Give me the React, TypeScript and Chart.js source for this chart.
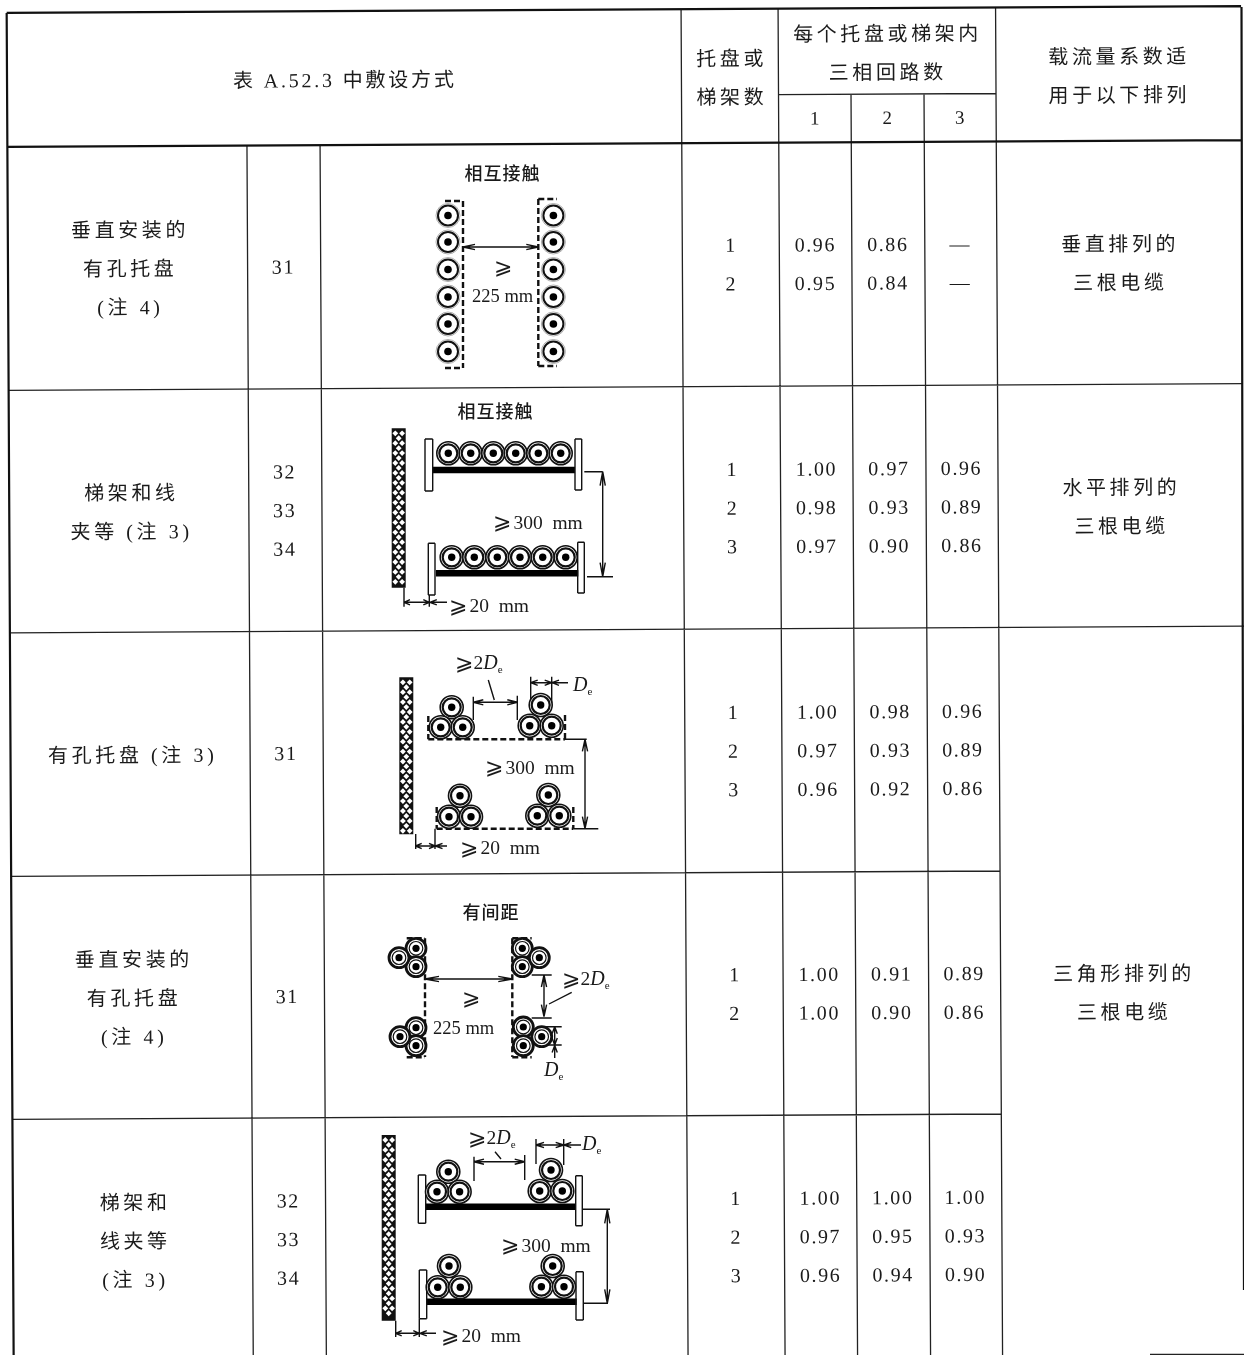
import React, { useEffect, useRef } from "react";
import { Chart, registerables } from "chart.js";
Chart.register(...registerables);

// ---------- table content ----------
const headerTitle = "表 A.52.3 中敷设方式";
const headerTrays = ["托盘或", "梯架数"];
const headerCircuits = ["每个托盘或梯架内", "三相回路数"];
const circuitLabels = ["1", "2", "3"];
const headerUse = ["载流量系数适", "用于以下排列"];

const installLabels = [
  ["垂直安装的", "有孔托盘", "(注 4)"],
  ["梯架和线", "夹等 (注 3)"],
  ["有孔托盘 (注 3)"],
  ["垂直安装的", "有孔托盘", "(注 4)"],
  ["梯架和", "线夹等", "(注 3)"],
];
const methodCodes = [["31"], ["32", "33", "34"], ["31"], ["31"], ["32", "33", "34"]];
const trayCounts = [["1", "2"], ["1", "2", "3"], ["1", "2", "3"], ["1", "2"], ["1", "2", "3"]];
const oneCircuit = [["0.96", "0.95"], ["1.00", "0.98", "0.97"], ["1.00", "0.97", "0.96"], ["1.00", "1.00"], ["1.00", "0.97", "0.96"]];
const twoCircuits = [["0.86", "0.84"], ["0.97", "0.93", "0.90"], ["0.98", "0.93", "0.92"], ["0.91", "0.90"], ["1.00", "0.95", "0.94"]];
const threeCircuits = [["—", "—"], ["0.96", "0.89", "0.86"], ["0.96", "0.89", "0.86"], ["0.89", "0.86"], ["1.00", "0.93", "0.90"]];
const arrangementLabels = [["垂直排列的", "三根电缆"], ["水平排列的", "三根电缆"], ["三角形排列的", "三根电缆"]];

// ---------- layout of the (slightly rotated) scanned table ----------
const SKEW_X = 0.0052;
const SKEW_Y = 0.0055;
const T = (u: number, v: number) => ({ x: u + SKEW_X * v, y: v - SKEW_Y * u });
const rowMid = [268.5, 512, 755, 998, 1241];
const arrangementRow = [0, 1, 3];
const PITCH = 38.6;
const colCenter = { label: 127, code: 282, tray: 729, c1: 814, c2: 886.5, c3: 959, use: 1117 };
const vLines = [
  [246.2, 147, 1362], [319.3, 147, 1362], [681, 13, 1362], [778, 13, 1362],
  [850.5, 99, 1362], [923.5, 99, 1362], [995.5, 13, 1362],
];
const hLines = [[6.6, 1241, 390.5], [6.6, 1241, 633], [6.6, 995.5, 876.5], [6.6, 995.5, 1119.5], [778, 995.5, 99]];

type P = { x: number; y: number };
type Seg = number[];
type Txt = { t: string; x: number; y: number; size?: number; sp?: number; bold?: boolean };
type Run = { runs: [string, string][]; x: number; y: number };

const FONT = '"Liberation Serif","Noto Sans CJK SC","DejaVu Sans"';

// ---------- diagram geometry helpers ----------
const thin: Seg[] = [];
const medium: Seg[] = [];
const bars: Seg[] = [];
const dashed: Seg[] = [];
const walls: Seg[] = [];

function arrowHead(x1: number, y1: number, x2: number, y2: number, len = 9, hw = 2.6) {
  const d = Math.hypot(x2 - x1, y2 - y1) || 1;
  const ux = (x2 - x1) / d, uy = (y2 - y1) / d;
  thin.push([x2, y2, x2 - ux * len - uy * hw, y2 - uy * len + ux * hw]);
  thin.push([x2, y2, x2 - ux * len + uy * hw, y2 - uy * len - ux * hw]);
}
function dim(x1: number, y1: number, x2: number, y2: number, len = 9) {
  thin.push([x1, y1, x2, y2]);
  arrowHead(x1, y1, x2, y2, len);
  arrowHead(x2, y2, x1, y1, len);
}
function lead(x1: number, y1: number, x2: number, y2: number) {
  thin.push([x1, y1, x2, y2]);
  arrowHead(x1, y1, x2, y2, 7);
}
function box(x1: number, y1: number, x2: number, y2: number) {
  medium.push([x1, y1, x2, y1], [x2, y1, x2, y2], [x2, y2, x1, y2], [x1, y2, x1, y1]);
}
function tri(x: number, y: number, dx: number, dy: number) {
  return [[x, y], [x - dx, y + dy], [x + dx, y + dy]];
}

// Diagram 1
const cablesThin = [448, 553].flatMap((x, i) =>
  [215.5, 242, 269.5, 297, 324, 351.5].map((y) => [x + (i ? 0.4 : 0), y]));
dashed.push([463, 201, 463, 368], [445, 201, 463, 201], [445, 368, 463, 368]);
dashed.push([538.3, 199, 538.3, 366], [538.3, 199, 557, 199], [538.3, 366, 557, 366]);
dim(463, 247, 538.3, 247, 12);

// Diagram 2
const cablesRing: number[][] = [
  ...[448.3, 470.7, 493.3, 515.7, 538.3, 560.7].map((x) => [x, 453.3]),
  ...[451.7, 474.3, 497.3, 520, 542.7, 565.7].map((x) => [x, 557.3]),
];
walls.push([398.7, 428.3, 398.7, 587.7]);
bars.push([432.7, 470, 575, 470], [436, 573.3, 578.3, 573.3]);
box(425, 439, 432.7, 491); box(575, 439, 581.7, 490); box(428.3, 543.3, 435, 595); box(577.7, 542.3, 584.3, 593);
dim(602.7, 471.7, 602.7, 576.7, 14);
thin.push([584.3, 471.7, 602.7, 471.7], [587, 576.7, 613, 576.7]);
thin.push([404, 587.7, 404, 606.7], [429.3, 595, 429.3, 606.7]);
dim(404, 602.3, 429.3, 602.3, 6);
lead(447, 602.3, 429.8, 602.3);

// Diagram 3
walls.push([406.3, 677.3, 406.3, 834.3]);
cablesRing.push(
  ...tri(451.7, 707.3, 11, 20), ...tri(540.7, 705, 11, 20.7),
  ...tri(460, 795.7, 11, 21), ...tri(548.3, 795, 11, 20.7));
dashed.push([428.3, 739.3, 565, 739.3], [428.3, 716, 428.3, 739.3], [565, 715, 565, 739.3]);
dashed.push([436.7, 828.7, 573.3, 828.7], [436.7, 807, 436.7, 828.7], [573.3, 807, 573.3, 828.7]);
thin.push([565, 739.3, 586.7, 739.3], [573.3, 828.7, 598.3, 828.7]);
dim(585, 739.3, 585, 828.7, 12);
thin.push([473.3, 696.7, 473.3, 720], [517.3, 695.7, 517.3, 720], [488.3, 680, 494.3, 700]);
dim(473.3, 702.3, 517.3, 702.3, 10);
thin.push([530.7, 676.7, 530.7, 705], [551.7, 676.7, 551.7, 705]);
dim(530.7, 682.7, 551.7, 682.7, 7);
lead(568, 682.7, 552, 682.7);
thin.push([415.7, 834, 415.7, 849], [435, 828.7, 435, 849]);
dim(415.7, 846, 435, 846, 6);
lead(447, 846, 435.5, 846);

// Diagram 4
const cablesHeavy: number[][] = [
  [416, 948.3], [416, 966.7], [399, 957.7], [416, 1027.7], [416, 1045.7], [400, 1036.7],
  [522.3, 948.3], [522.3, 966.7], [539.3, 957.7], [523.3, 1027], [523.3, 1045.7], [541.7, 1036.7],
];
dashed.push([425, 938.3, 425, 1057], [406.7, 938.3, 425, 938.3], [406.7, 1057.3, 425, 1057.3]);
dashed.push([512.3, 938.3, 512.3, 1057], [512.3, 938.3, 531.7, 938.3], [512.3, 1057.3, 531.7, 1057.3]);
dim(425, 979, 512.3, 979, 14);
dim(544, 975, 544, 1016.7, 12);
thin.push([531.7, 975, 551.7, 975], [531.7, 1018, 551.7, 1018], [571.7, 992.3, 549, 1004]);
thin.push([540, 1026.7, 561.7, 1026.7], [540, 1045, 561.7, 1045]);
dim(554.7, 1026.7, 554.7, 1045, 7);
lead(554.7, 1058, 554.7, 1045.5);

// Diagram 5
walls.push([388.7, 1135, 388.7, 1320.7]);
bars.push([425.7, 1206.7, 576, 1206.7], [426.7, 1301.7, 576.7, 1301.7]);
box(418.3, 1175, 425.7, 1223.3); box(575.7, 1175.7, 582.3, 1225.7);
box(419.3, 1270, 426.7, 1318.7); box(576, 1271.7, 583.3, 1320);
cablesRing.push(
  ...tri(448.3, 1171.7, 11.3, 20), ...tri(551, 1170, 11.3, 21),
  ...tri(449, 1266, 11.3, 21.3), ...tri(552.7, 1266, 11.3, 20.7));
dim(607.3, 1209.3, 607.3, 1303.3, 14);
thin.push([582.3, 1209.3, 610, 1209.3], [583, 1303.3, 608, 1303.3]);
thin.push([395.7, 1320.7, 395.7, 1337], [419.3, 1318.7, 419.3, 1337]);
dim(395.7, 1333.3, 419.3, 1333.3, 6);
lead(436, 1333.3, 419.8, 1333.3);
thin.push([474, 1156.7, 474, 1181], [524.7, 1155, 524.7, 1180], [495, 1151.7, 501, 1159]);
dim(474, 1161.7, 524.7, 1161.7, 10);
thin.push([536, 1139, 536, 1164], [563.7, 1139, 563.7, 1165]);
dim(536, 1145, 563.7, 1145, 8);
lead(581, 1145, 564.2, 1145);

// ---------- table lines ----------
const tableBold: Seg[] = [];
const tableThin: Seg[] = [];
const S = (a: P, b: P) => [a.x, a.y, b.x, b.y];
tableBold.push(S(T(6.6, 13), T(6.6, 1362)), S(T(6.6, 13), T(1241, 13)), S(T(6.6, 147), T(1241, 147)));
tableBold.push([1241.5, 7, 1244, 1290]);
vLines.forEach(([u, a, b]) => tableThin.push(S(T(u, a), T(u, b))));
hLines.forEach(([a, b, v]) => tableThin.push(S(T(a, v), T(b, v))));
tableThin.push([1150, 1354.4, 1244, 1354.4]);

const segData = (segs: Seg[]) =>
  segs.flatMap(([a, b, c, d]) => [{ x: a, y: b }, { x: c, y: d }, { x: NaN, y: NaN }]);
const ptData = (pts: number[][]) => pts.map(([x, y]) => ({ x, y }));

const lineDs = (segs: Seg[], width: number, color = "#111", dash: number[] = []) => ({
  data: segData(segs), showLine: true, borderColor: color, borderWidth: width, borderDash: dash,
  pointRadius: 0, spanGaps: false, clip: false, borderCapStyle: "butt",
});
const ptDs = (pts: number[][], r: number, bg: string, bc: string, bw: number, style = "circle") => ({
  data: ptData(pts), showLine: false, pointRadius: r, pointBackgroundColor: bg, pointBorderColor: bc,
  pointBorderWidth: bw, pointStyle: style, clip: false,
});

const diamonds: number[][] = [];
walls.forEach(([x, y1, , y2]) => {
  const pitch = 9.9;
  for (let y = y1 + 5; y < y2 - 3; y += pitch) {
    diamonds.push([x - 3.4, y], [x + 3.4, y]);
    if (y + pitch / 2 < y2 - 3) diamonds.push([x, y + pitch / 2]);
  }
});

// ---------- free text in the diagrams ----------
const D = "italic 20px " + FONT;
const SUB = "11px " + FONT;
const N = "19.5px " + FONT;
const GE = "22px " + FONT;
const GAP = "8px " + FONT;
const M = "18.5px " + FONT;
const diagramText: Txt[] = [
  { t: "相互接触", x: 502.5, y: 175 },
  { t: "相互接触", x: 495.5, y: 413 },
  { t: "有间距", x: 491, y: 914 },
];
const diagramRuns: Run[] = [
  { runs: [["⩾", GE]], x: 494, y: 268 },
  { runs: [["225 mm", M]], x: 472, y: 297 },
  { runs: [["⩾", GE], [" ", GAP], ["300  mm", N]], x: 493, y: 523.5 },
  { runs: [["⩾", GE], [" ", GAP], ["20  mm", N]], x: 449, y: 607 },
  { runs: [["⩾", GE], ["2", N], ["D", D], ["e", SUB]], x: 455, y: 664 },
  { runs: [["D", D], ["e", SUB]], x: 573, y: 686 },
  { runs: [["⩾", GE], [" ", GAP], ["300  mm", N]], x: 485, y: 768.5 },
  { runs: [["⩾", GE], [" ", GAP], ["20  mm", N]], x: 460, y: 849 },
  { runs: [["⩾", GE]], x: 462, y: 999 },
  { runs: [["225 mm", M]], x: 433, y: 1029.5 },
  { runs: [["⩾", GE], ["2", N], ["D", D], ["e", SUB]], x: 562, y: 980 },
  { runs: [["D", D], ["e", SUB]], x: 544, y: 1071 },
  { runs: [["⩾", GE], ["2", N], ["D", D], ["e", SUB]], x: 468, y: 1139 },
  { runs: [["D", D], ["e", SUB]], x: 582, y: 1145 },
  { runs: [["⩾", GE], [" ", GAP], ["300  mm", N]], x: 501, y: 1246.5 },
  { runs: [["⩾", GE], [" ", GAP], ["20  mm", N]], x: 441, y: 1337 },
];

// ---------- table text laid out from the content arrays ----------
const tableText: Txt[] = [];
const put = (t: string, u: number, v: number, size = 20, sp = 3.6) => {
  const cjk = /[\u3400-\u9fff]/.test(t);
  const p = T(u + (cjk ? sp / 2 : 0), v + (cjk ? 2.6 : 1.4));
  tableText.push({ t, x: p.x, y: p.y, size, sp });
};
const stack = (list: string[], u: number, mid: number, size = 20, sp = 3.6) =>
  list.forEach((t, i) => put(t, u, mid + (i - (list.length - 1) / 2) * PITCH, size, sp));

put(headerTitle, 343, 81, 20, 2.8);
stack(headerTrays, 729.5, 81);
stack(headerCircuits, 885.5, 57);
circuitLabels.forEach((t, i) => put(t, [814, 886.5, 959][i], 122.5, 19, 0));
stack(headerUse, 1117, 81);
rowMid.forEach((mid, r) => {
  stack(installLabels[r], colCenter.label, mid);
  stack(methodCodes[r], colCenter.code, mid, 20, 1.6);
  stack(trayCounts[r], colCenter.tray, mid, 20, 0);
  stack(oneCircuit[r], colCenter.c1, mid, 20, 1.6);
  stack(twoCircuits[r], colCenter.c2, mid, 20, 1.6);
  stack(threeCircuits[r], colCenter.c3, mid, 20, 1.6);
});
arrangementLabels.forEach((list, i) => stack(list, colCenter.use, rowMid[arrangementRow[i]]));

const textPlugin = {
  id: "tableText",
  afterDatasetsDraw(chart: any) {
    const { ctx, scales } = chart;
    const px = (x: number) => scales.x.getPixelForValue(x);
    const py = (y: number) => scales.y.getPixelForValue(y);
    ctx.save();
    ctx.fillStyle = "#1a1a1a";
    ctx.textBaseline = "middle";
    const angle = -0.0055;
    tableText.forEach((o) => {
      ctx.save();
      ctx.translate(px(o.x), py(o.y));
      ctx.rotate(angle);
      ctx.textAlign = "center";
      ctx.font = `${o.size}px ${FONT}`;
      ctx.letterSpacing = `${o.sp}px`;
      ctx.fillText(o.t, 0, 0);
      ctx.restore();
    });
    diagramText.forEach((o) => {
      ctx.textAlign = "center";
      ctx.font = `500 18px ${FONT}`;
      ctx.letterSpacing = "1px";
      ctx.fillText(o.t, px(o.x), py(o.y));
    });
    ctx.letterSpacing = "0px";
    ctx.textAlign = "left";
    diagramRuns.forEach((o) => {
      let x = px(o.x);
      o.runs.forEach(([t, f]) => {
        ctx.font = f;
        const sub = f === SUB;
        ctx.fillText(t, x, py(o.y) + (sub ? 6 : 0));
        x += ctx.measureText(t).width;
      });
    });
    ctx.restore();
  },
};

export default function App() {
  const ref = useRef<HTMLCanvasElement>(null);
  useEffect(() => {
    // listed in paint order, bottom first
    const layers: any[] = [
      lineDs(tableThin, 1.3, "#222"),
      lineDs(tableBold, 2.2, "#111"),
      lineDs(walls, 14, "#111"),
      ptDs(diamonds, 2.9, "#fff", "#fff", 0, "rectRot"),
      lineDs(bars, 6.6, "#000"),
      lineDs(medium, 1.4, "#111"),
      lineDs(thin, 1.4, "#111"),
      lineDs(dashed, 2.4, "#111", [6, 3]),
      ptDs(cablesThin, 12, "#fff", "#999", 0.8),
      ptDs(cablesThin, 10, "#fff", "#111", 2),
      ptDs(cablesThin, 3.8, "#000", "#000", 0),
      ptDs(cablesRing, 11.5, "#fff", "#111", 1.6),
      ptDs(cablesRing, 9, "#fff", "#111", 2.2),
      ptDs(cablesRing, 3.7, "#000", "#000", 0),
      ptDs(cablesHeavy, 10, "#fff", "#111", 2.8),
      ptDs(cablesHeavy, 6.8, "#fff", "#111", 1.2),
      ptDs(cablesHeavy, 3.6, "#000", "#000", 0),
    ];
    const chart = new Chart(ref.current!, {
      type: "scatter",
      data: { datasets: layers.reverse() },
      options: {
        responsive: false,
        animation: false,
        devicePixelRatio: 1,
        layout: { padding: 0, autoPadding: false },
        plugins: { legend: { display: false }, tooltip: { enabled: false } },
        events: [],
        scales: {
          x: { type: "linear", display: false, min: 0, max: 1244 },
          y: { type: "linear", display: false, min: 0, max: 1355, reverse: true },
        },
      },
      plugins: [textPlugin],
    } as any);
    return () => chart.destroy();
  }, []);
  return (
    <div style={{ position: "absolute", left: 0, top: 0, width: 1244, height: 1355, background: "#fff" }}>
      <canvas ref={ref} width={1244} height={1355} style={{ display: "block" }} />
    </div>
  );
}
